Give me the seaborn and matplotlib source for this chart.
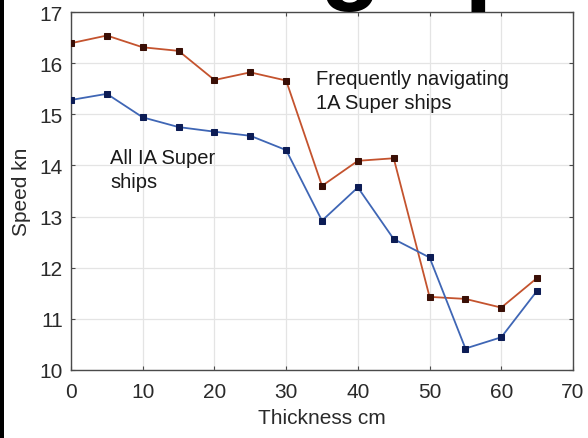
import matplotlib
matplotlib.use("Agg")
import matplotlib.pyplot as plt
import seaborn as sns
import pandas as pd
from matplotlib.patches import Rectangle

# ---- data ----
thickness = [0, 5, 10, 15, 20, 25, 30, 35, 40, 45, 50, 55, 60, 65]
speed_frequent = [16.39, 16.54, 16.31, 16.24, 15.67, 15.82, 15.66, 13.60, 14.09, 14.14, 11.43, 11.39, 11.22, 11.80]
speed_all = [15.28, 15.40, 14.94, 14.75, 14.66, 14.58, 14.30, 12.92, 13.57, 12.56, 12.20, 10.42, 10.64, 11.55]
x_ticks = [0, 10, 20, 30, 40, 50, 60, 70]
y_ticks = [10, 11, 12, 13, 14, 15, 16, 17]
label_frequent = "Frequently navigating\n1A Super ships"
label_all = "All IA Super\nships"
x_label = "Thickness cm"
y_label = "Speed kn"
title_fragment = "ing speed"

sns.set_theme(style="white")
plt.rcParams['font.family'] = ['Liberation Sans', 'DejaVu Sans']

fig = plt.figure(figsize=(5.88, 4.39), dpi=100, facecolor='white')
ax = fig.add_axes([71/588, 1 - 371/439, (573-71)/588, (371-13)/439])

df_f = pd.DataFrame({"x": thickness, "y": speed_frequent})
df_a = pd.DataFrame({"x": thickness, "y": speed_all})

sns.lineplot(data=df_f, x="x", y="y", ax=ax, color="#c4532e", linewidth=1.3,
             marker="s", markersize=4.8, markerfacecolor="#3a0f06",
             markeredgecolor="#3a0f06", zorder=3)
sns.lineplot(data=df_a, x="x", y="y", ax=ax, color="#3f66b5", linewidth=1.3,
             marker="s", markersize=4.8, markerfacecolor="#0c1c55",
             markeredgecolor="#0c1c55", zorder=3)

ax.set_xlim(0, 70)
ax.set_ylim(10, 17)
ax.set_xticks(x_ticks)
ax.set_yticks(y_ticks)
ax.grid(True, color="#e4e4e4", linewidth=0.9)
ax.set_axisbelow(True)
for s in ax.spines.values():
    s.set_visible(True)
    s.set_color("#4a4a4a")
    s.set_linewidth(1.0)
ax.tick_params(direction='in', length=3, width=0.8, colors="#4a4a4a",
               labelcolor="#2a2a2a", labelsize=15, top=True, right=True,
               bottom=True, left=True, pad=6)
ax.tick_params(axis='x', pad=9)
ax.set_xlabel(x_label, fontsize=15, color="#2a2a2a", labelpad=5)
ax.set_ylabel(y_label, fontsize=15, color="#2a2a2a", labelpad=6)

ax.text(34.2, 15.89, label_frequent, fontsize=14.5, color="#1a1a1a",
        ha='left', va='top', linespacing=1.32)
ax.text(5.5, 14.34, label_all, fontsize=14.5, color="#1a1a1a",
        ha='left', va='top', linespacing=1.32)

# clipped title fragment from the original slide and left black border
fig.text(231/588, 1 + 9/439, title_fragment, fontsize=72, fontweight='bold',
         color='black', ha='left', va='baseline')
fig.patches.append(Rectangle((0, 0), 3.5/588, 1, transform=fig.transFigure,
                             facecolor='black', edgecolor='none'))

fig.savefig("out.png", dpi=100, facecolor='white')
